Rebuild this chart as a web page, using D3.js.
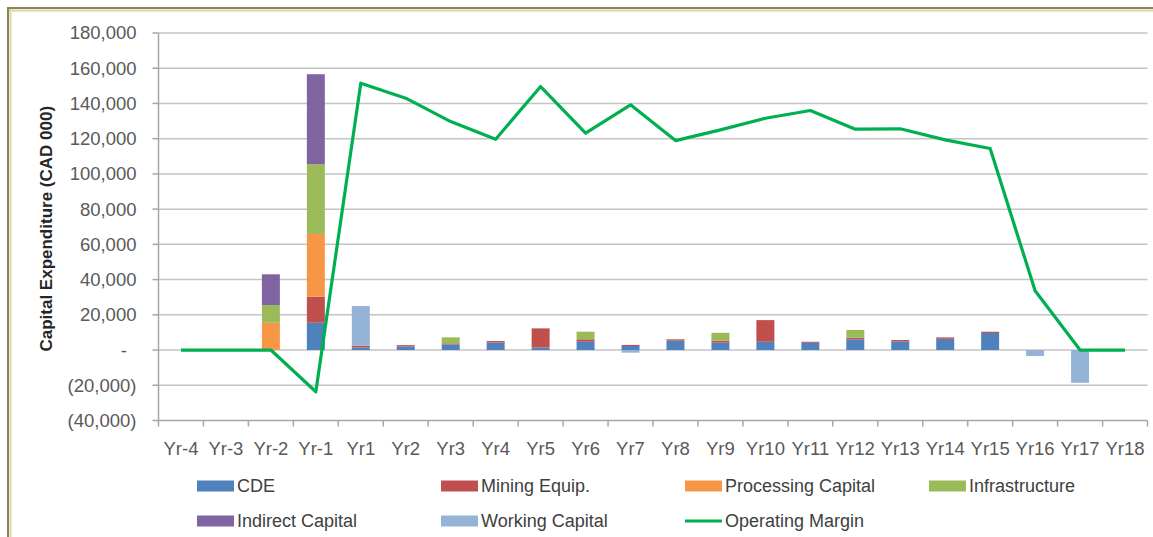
<!DOCTYPE html>
<html>
<head>
<meta charset="utf-8">
<script src="https://cdn.jsdelivr.net/npm/d3@7/dist/d3.min.js"></script>
<style>
  html, body { margin: 0; padding: 0; background: #ffffff; }
  svg { display: block; }
  text { font-family: "Liberation Sans", Arial, sans-serif; }
</style>
</head>
<body>
<svg id="chart" width="1153" height="537"></svg>
<script>
// Project years
const categories = ["Yr-4","Yr-3","Yr-2","Yr-1","Yr1","Yr2","Yr3","Yr4","Yr5","Yr6","Yr7",
                    "Yr8","Yr9","Yr10","Yr11","Yr12","Yr13","Yr14","Yr15","Yr16","Yr17","Yr18"];

// Capital expenditure by component (CAD 000)
const cde            = [0,0,0,15500,1500,2000,3200,4200,1500,4700,2300,5300,4200,4700,4100,6100,4900,6400,9700,0,0,0];
const miningEquip    = [0,0,0,14800,1000,800,600,900,10800,1400,600,800,1100,12300,600,900,800,800,700,0,0,0];
const processingCap  = [0,0,15500,35600,0,0,0,0,0,0,0,0,0,0,0,0,0,0,0,0,0,0];
const infrastructure = [0,0,10000,39600,0,0,3400,0,0,4300,0,0,4500,0,0,4400,0,0,0,0,0,0];
const indirectCap    = [0,0,17500,51100,0,0,0,0,0,0,0,0,0,0,0,0,0,0,0,0,0,0];
const workingCap     = [0,0,0,0,22500,0,0,0,0,0,-1500,0,0,0,0,0,0,0,0,-3400,-18600,0];

// Operating margin (CAD 000)
const operatingMargin = [0,0,0,-23700,151500,143000,129700,119700,149600,123100,139200,
                         118900,125000,131600,136000,125400,125600,119300,114400,33700,0,0];

// Value axis ticks
const yTicks = [-40000,-20000,0,20000,40000,60000,80000,100000,120000,140000,160000,180000];

const seriesNames  = ["CDE","Mining Equip.","Processing Capital","Infrastructure","Indirect Capital","Working Capital"];
const seriesValues = [cde, miningEquip, processingCap, infrastructure, indirectCap, workingCap];
const seriesColors = ["#4F81BD","#C0504D","#F79646","#9BBB59","#8064A2","#95B3D7"];
const lineName  = "Operating Margin";
const lineColor = "#00B050";

const svg = d3.select("#chart");

// Frame of the chart object
svg.append("line").attr("x1", 7).attr("x2", 1153).attr("y1", 8).attr("y2", 8)
  .attr("stroke", "#8c8455").attr("stroke-width", 2);
svg.append("line").attr("x1", 8).attr("x2", 8).attr("y1", 7).attr("y2", 537)
  .attr("stroke", "#8c8455").attr("stroke-width", 2);
svg.append("line").attr("x1", 9).attr("x2", 1153).attr("y1", 10.5).attr("y2", 10.5)
  .attr("stroke", "#ddd6b3").attr("stroke-width", 2);
svg.append("line").attr("x1", 10.5).attr("x2", 10.5).attr("y1", 9).attr("y2", 537)
  .attr("stroke", "#ddd6b3").attr("stroke-width", 2);

const plot = { left: 158.5, right: 1147.5, top: 33, bottom: 420.5 };

const x = d3.scaleBand().domain(categories)
  .range([plot.left, plot.right]).paddingInner(0.6).paddingOuter(0.3);
const y = d3.scaleLinear().domain([d3.min(yTicks), d3.max(yTicks)])
  .range([plot.bottom, plot.top]);
const step = x.step();
const half = (step - x.bandwidth()) / 2;

// Horizontal gridlines
svg.append("g").selectAll("line")
  .data(yTicks.filter(v => v !== d3.min(yTicks)))
  .join("line")
  .attr("x1", plot.left).attr("x2", plot.right)
  .attr("y1", d => y(d)).attr("y2", d => y(d))
  .attr("stroke", "#c4c4c4").attr("stroke-width", 1.5);

// Value axis
const fmt = d3.format(",");
const yAxis = svg.append("g");
yAxis.append("line").attr("x1", plot.left).attr("x2", plot.left)
  .attr("y1", y(d3.max(yTicks))).attr("y2", y(d3.min(yTicks)))
  .attr("stroke", "#a6a6a6").attr("stroke-width", 1.5);
yAxis.selectAll("line.tick").data(yTicks).join("line").attr("class", "tick")
  .attr("x1", plot.left - 6).attr("x2", plot.left)
  .attr("y1", d => y(d)).attr("y2", d => y(d))
  .attr("stroke", "#a6a6a6").attr("stroke-width", 1.5);
yAxis.selectAll("text").data(yTicks).join("text")
  .attr("x", d => d === 0 ? 127 : 136.5)
  .attr("y", d => y(d)).attr("dy", "0.35em")
  .attr("text-anchor", "end")
  .attr("font-size", "18.5px").attr("fill", "#595959")
  .text(d => d === 0 ? "-" : d < 0 ? "(" + fmt(-d) + ")" : fmt(d));

// Value axis title, centred on the plot height
svg.append("text")
  .attr("transform", `translate(52,${(plot.top + plot.bottom) / 2 + 2}) rotate(-90)`)
  .attr("text-anchor", "middle")
  .attr("font-size", "17px").attr("font-weight", "bold").attr("fill", "#262626")
  .text("Capital Expenditure (CAD 000)");

// Category axis
const xAxis = svg.append("g");
xAxis.append("line").attr("x1", plot.left).attr("x2", plot.right)
  .attr("y1", plot.bottom).attr("y2", plot.bottom)
  .attr("stroke", "#a6a6a6").attr("stroke-width", 1.5);
const boundaries = categories.map(c => x(c) - half).concat([x(categories[categories.length - 1]) + x.bandwidth() + half]);
xAxis.selectAll("line.tick").data(boundaries).join("line").attr("class", "tick")
  .attr("x1", d => d).attr("x2", d => d)
  .attr("y1", plot.bottom).attr("y2", plot.bottom + 6)
  .attr("stroke", "#a6a6a6").attr("stroke-width", 1.5);
xAxis.selectAll("text").data(categories).join("text")
  .attr("x", d => x(d) + x.bandwidth() / 2)
  .attr("y", plot.bottom + 34)
  .attr("text-anchor", "middle")
  .attr("font-size", "18.5px").attr("fill", "#595959")
  .text(d => d);

// Stacked bars
const rows = categories.map((c, i) => {
  const r = { year: c };
  seriesNames.forEach((n, k) => { r[n] = seriesValues[k][i]; });
  return r;
});
const stacked = d3.stack().keys(seriesNames).offset(d3.stackOffsetDiverging)(rows);

svg.append("g").selectAll("g")
  .data(stacked)
  .join("g")
  .attr("fill", (d, k) => seriesColors[k])
  .selectAll("rect")
  .data(d => d.filter(p => p[1] !== p[0]))
  .join("rect")
  .attr("x", p => x(p.data.year))
  .attr("width", x.bandwidth())
  .attr("y", p => y(Math.max(p[0], p[1])))
  .attr("height", p => Math.abs(y(p[0]) - y(p[1])));

// Operating margin line
const line = d3.line()
  .x((d, i) => x(categories[i]) + x.bandwidth() / 2)
  .y(d => y(d));
svg.append("path")
  .datum(operatingMargin)
  .attr("d", line)
  .attr("fill", "none")
  .attr("stroke", lineColor)
  .attr("stroke-width", 3.2)
  .attr("stroke-linejoin", "round");

// Legend
const legendCols = [197, 441, 685, 929];
const legendRows = [486, 521];
const legendItems = seriesNames.map((n, k) => ({ name: n, color: seriesColors[k], type: "bar" }))
  .concat([{ name: lineName, color: lineColor, type: "line" }]);
const legend = svg.append("g");
legendItems.forEach((item, i) => {
  const lx = legendCols[i % 4];
  const ly = legendRows[Math.floor(i / 4)];
  if (item.type === "bar") {
    legend.append("rect").attr("x", lx).attr("y", ly - 5.5)
      .attr("width", 37).attr("height", 11).attr("fill", item.color);
  } else {
    legend.append("line").attr("x1", lx).attr("x2", lx + 37)
      .attr("y1", ly).attr("y2", ly)
      .attr("stroke", item.color).attr("stroke-width", 3.2);
  }
  legend.append("text").attr("x", lx + 40).attr("y", ly).attr("dy", "0.35em")
    .attr("font-size", "18px").attr("fill", "#404040")
    .text(item.name);
});
</script>
</body>
</html>
